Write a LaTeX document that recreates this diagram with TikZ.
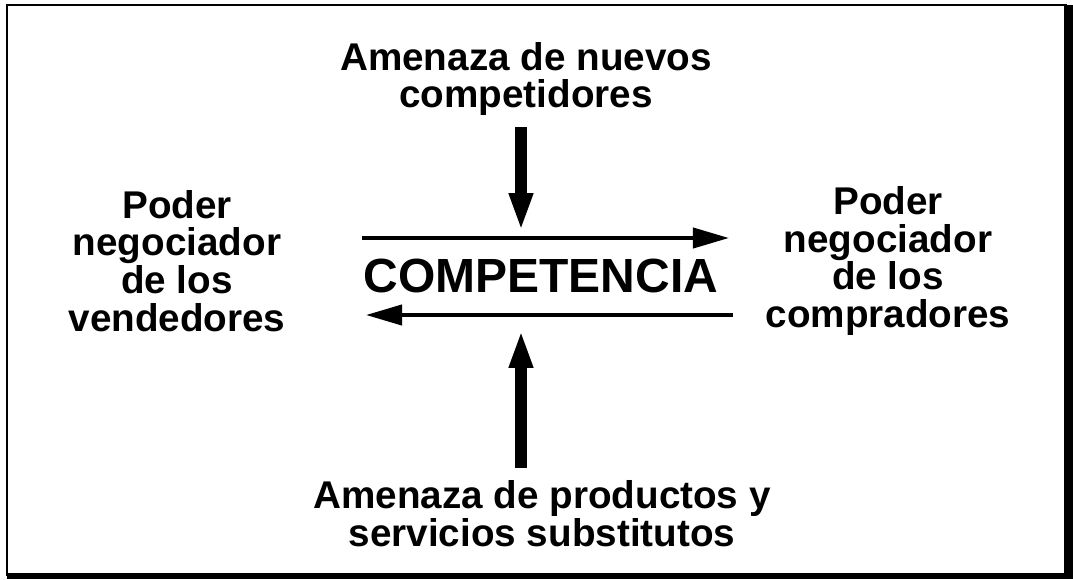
\documentclass[tikz,border=0pt]{standalone}
\usepackage{fontspec}
\setmainfont{Liberation Sans}
\usetikzlibrary{arrows.meta}

\tikzset{
	fuerza/.style={font=\bfseries\fontsize{22}{21.5}\selectfont, align=center, inner sep=0pt, anchor=center},
	flechah/.style={-{Triangle[length=20.5pt,width=11.4pt]}, line width=2.3pt},
	flechav/.style={-{Triangle[length=21.6pt,width=12.5pt]}, line width=6.3pt}
}

\begin{document}
\begin{tikzpicture}[x=0.02cm, y=-0.02cm]
	
	\useasboundingbox (0,0) rectangle (1073,579);
	
	%marco con sombra
	\draw[line width=1.2pt] (7,5) rectangle (1066,575);
	\fill[black] (1064,5) rectangle (1073,579);
	\fill[black] (7,573) rectangle (1073,579);
	
	%las cinco fuerzas
	\node[fuerza] (nuevos) at (526,79) {Amenaza de nuevos\\competidores};
	\node[fuerza] (vendedores) at (177,261) {Poder\\negociador\\de los\\vendedores};
	\node[fuerza] (compradores) at (888,261) {Poder\\negociador\\de los\\compradores};
	\node[fuerza] (substitutos) at (542,514) {Amenaza de productos y\\servicios substitutos};
	\node[font=\bfseries\fontsize{27.3}{30}\selectfont, inner sep=0pt] (competencia) at (541,276) {COMPETENCIA};
	
	%extremos de las flechas
	\coordinate (d1) at (521,127);
	\coordinate (d2) at (521,231);
	\coordinate (u1) at (521,468);
	\coordinate (u2) at (521,330);
	\coordinate (r1) at (362,238);
	\coordinate (r2) at (729,238);
	\coordinate (l1) at (733,315);
	\coordinate (l2) at (366,315);
	
	\draw[flechav] (d1) -- (d2);
	\draw[flechav] (u1) -- (u2);
	\draw[flechah] (r1) -- (r2);
	\draw[flechah] (l1) -- (l2);
	
\end{tikzpicture}
\end{document}
